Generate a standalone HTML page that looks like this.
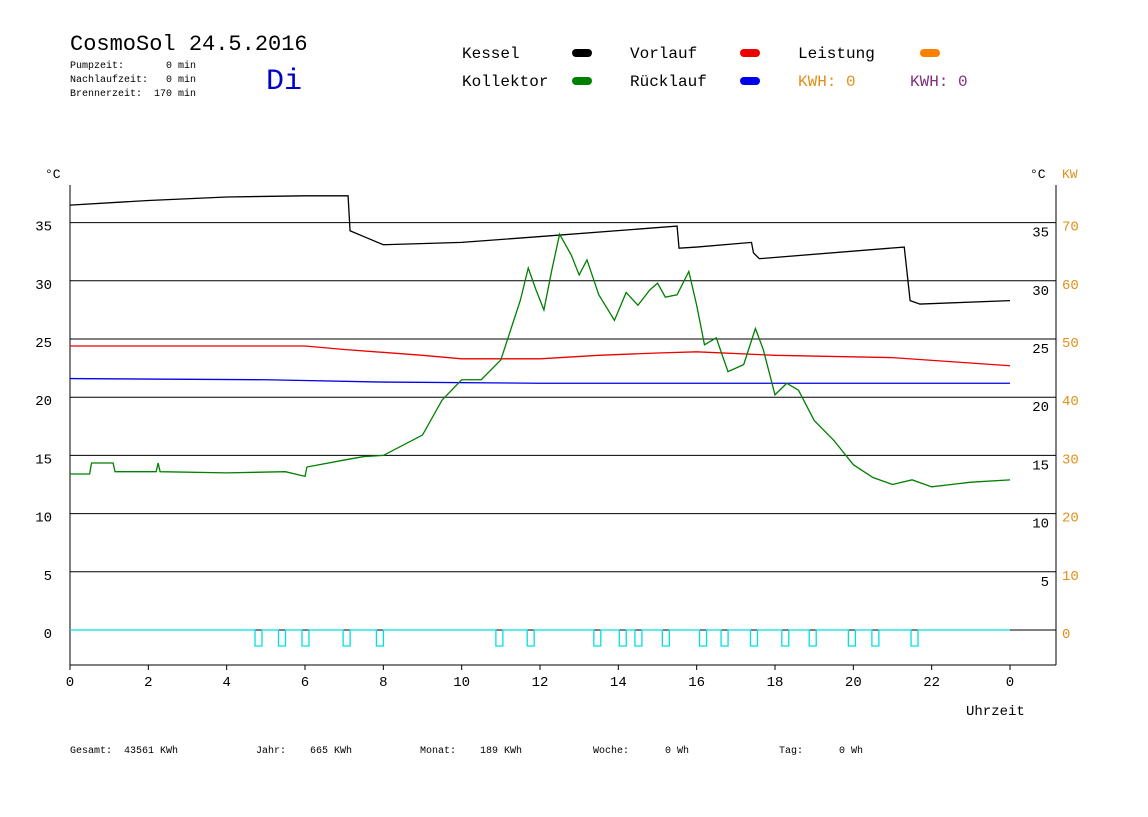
<!DOCTYPE html>
<html><head><meta charset="utf-8"><style>
body{margin:0;background:#fff;width:1148px;height:812px;overflow:hidden}
svg{font-family:"Liberation Mono",monospace}
text{white-space:pre}
</style></head><body>
<svg width="1148" height="812" xml:space="preserve">
<text x="70" y="50" font-size="22" fill="#000">CosmoSol 24.5.2016</text>
<g font-size="10" fill="#000">
<text x="70" y="68">Pumpzeit:       0 min</text>
<text x="70" y="82">Nachlaufzeit:   0 min</text>
<text x="70" y="96">Brennerzeit:  170 min</text>
</g>
<text x="266" y="89" font-size="30" fill="#0000cc">Di</text>
<g font-size="16">
<text x="462" y="58">Kessel</text><rect x="572" y="49" width="20" height="8" rx="4" fill="#000"/>
<text x="462" y="86">Kollektor</text><rect x="572" y="77" width="20" height="8" rx="4" fill="#007f00"/>
<text x="630" y="58">Vorlauf</text><rect x="740" y="49" width="20" height="8" rx="4" fill="#ee0000"/>
<text x="630" y="86">Rücklauf</text><rect x="740" y="77" width="20" height="8" rx="4" fill="#0000ee"/>
<text x="798" y="58">Leistung</text><rect x="920" y="49" width="20" height="8" rx="4" fill="#ff8000"/>
<text x="798" y="86" fill="#e0901a">KWH: 0</text>
<text x="910" y="86" fill="#7f2f7f">KWH: 0</text>
</g>
<g id="axes"></g>
<g id="marks"></g>
<text x="966" y="715" font-size="14">Uhrzeit</text>
<g font-size="10">
<text x="70" y="753">Gesamt:  43561 KWh</text>
<text x="256" y="753">Jahr:    665 KWh</text>
<text x="420" y="753">Monat:    189 KWh</text>
<text x="593" y="753">Woche:      0 Wh</text>
<text x="779" y="753">Tag:      0 Wh</text>
</g>
</svg>
<script>
const kesselH=[0,2,4,6,7.1,7.15,7.5,8,10,12,15.5,15.55,16,17.4,17.45,17.6,21.3,21.45,21.7,24];
const kesselV=[36.5,36.9,37.2,37.3,37.3,34.3,33.8,33.1,33.3,33.8,34.7,32.8,32.9,33.3,32.4,31.9,32.9,28.3,28.0,28.3];
const vorH=[0,6,7,9,10,12,13.5,15,16,18,21,24];
const vorV=[24.4,24.4,24.1,23.6,23.3,23.3,23.6,23.8,23.9,23.6,23.4,22.7];
const rueH=[0,5,8,12,24];
const rueV=[21.6,21.5,21.3,21.2,21.2];
const kolH=[0,0.5,0.55,1.1,1.15,2.2,2.25,2.3,4,5.5,6,6.05,7,7.5,8,9,9.5,10,10.5,11,11.5,11.7,11.9,12.1,12.3,12.5,12.8,13,13.2,13.5,13.9,14.2,14.5,14.8,15,15.2,15.5,15.8,16,16.2,16.5,16.8,17.2,17.5,17.7,18,18.3,18.6,19,19.5,20,20.5,21,21.5,22,22.5,23,24];
const kolV=[13.4,13.4,14.35,14.35,13.6,13.6,14.35,13.6,13.5,13.6,13.2,14.0,14.6,14.9,15.0,16.75,19.75,21.5,21.5,23.2,28.35,31.1,29.2,27.5,30.9,34.0,32.2,30.5,31.8,28.8,26.6,29.0,27.9,29.2,29.8,28.6,28.8,30.8,27.9,24.5,25.1,22.2,22.8,25.9,24.1,20.2,21.2,20.6,18.0,16.3,14.2,13.1,12.5,12.9,12.3,12.5,12.7,12.9];
const pumpH=[4.8,5.4,6.0,7.05,7.9,10.95,11.75,13.45,14.1,14.5,15.2,16.15,16.7,17.45,18.25,18.95,19.95,20.55,21.55];
const yTicks=[0,5,10,15,20,25,30,35];
const xTicks=[0,2,4,6,8,10,12,14,16,18,20,22,0];
const kwTicks=[0,10,20,30,40,50,60,70];
const X=h=>70+h*(940/24), Y=v=>630-v*11.64;
const NS="http://www.w3.org/2000/svg";
function mk(p,t,a){const e=document.createElementNS(NS,t);for(const k in a)e.setAttribute(k,a[k]);p.appendChild(e);return e;}
const ax=document.getElementById('axes'), mg=document.getElementById('marks');
yTicks.forEach((v,i)=>{
 const l=mk(ax,'line',{x1:70,x2:1056,y1:Y(v),y2:Y(v),stroke:'#000','stroke-width':1});
 
 
 const t=mk(ax,'text',{x:52,y:Y(v)+8,'font-size':14,'text-anchor':'end'});t.textContent=v;
 
 
 if(v>0){const r=mk(ax,'text',{x:1049,y:Y(v)+14,'font-size':14,'text-anchor':'end'});r.textContent=v;
 
 }
 const k=mk(ax,'text',{x:1062,y:Y(v)+8,'font-size':14,fill:'#e0901a'});k.textContent=kwTicks[i];
 
 
});
[['x1',70,'x2',70,'y1',185,'y2',665],['x1',1056,'x2',1056,'y1',185,'y2',665],['x1',70,'x2',1056,'y1',665,'y2',665]].forEach(a=>{
 const o={stroke:'#000'};for(let i=0;i<a.length;i+=2)o[a[i]]=a[i+1];
 const l=mk(ax,'line',o);
 
 
});
const u1=mk(ax,'text',{x:45,y:178,'font-size':13});u1.textContent='°C';


const u2=mk(ax,'text',{x:1030,y:178,'font-size':13});u2.textContent='°C';


const u3=mk(ax,'text',{x:1062,y:178,'font-size':13,fill:'#e0901a'});u3.textContent='KW';


xTicks.forEach((h,i)=>{
 const x=X(i*2);
 mk(ax,'line',{x1:x,x2:x,y1:665,y2:670,stroke:'#000'});
 const t=mk(ax,'text',{x:x,y:686,'font-size':14,'text-anchor':'middle'});t.textContent=h;
 
 
});
function series(H,V,c,name){
 const p=mk(mg,'polyline',{points:H.map((h,i)=>X(h)+','+Y(V[i])).join(' '),fill:'none',stroke:c,'stroke-width':1.3});
 
 
}
series(vorH,vorV,'#ee0000','vorlauf-line');
series(rueH,rueV,'#0000ee','ruecklauf-line');
series(kesselH,kesselV,'#000','kessel-line');
series(kolH,kolV,'#007f00','kollektor-line');
let pts=[[X(0),Y(0)]];
pumpH.forEach(h=>{const a=X(h)-3,b=X(h)+4;pts.push([a,Y(0)],[a,646],[b,646],[b,Y(0)]);});
pts.push([X(24),Y(0)]);
const pp=mk(mg,'polyline',{points:pts.map(p=>p.join(',')).join(' '),fill:'none',stroke:'#00e0e0','stroke-width':1.3});


</script>
</body></html>
